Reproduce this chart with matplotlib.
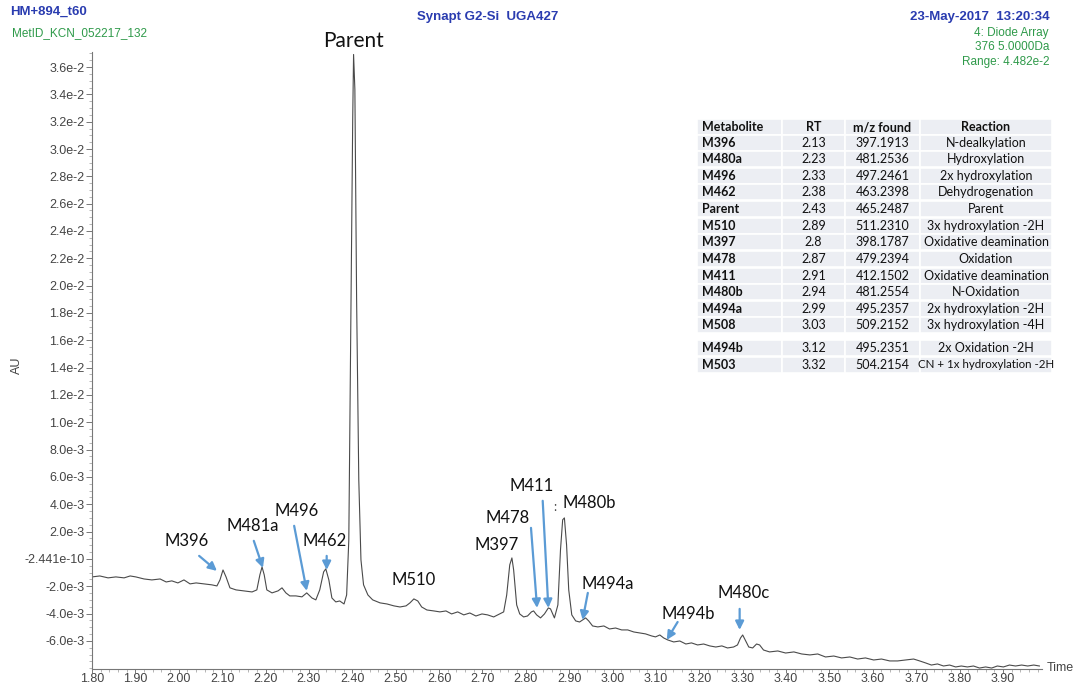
import matplotlib
matplotlib.use('Agg')
import matplotlib.pyplot as plt
from matplotlib.patches import Rectangle
from matplotlib.ticker import MultipleLocator

# chromatogram trace (time in min, AU)
time = [1.800, 1.818, 1.837, 1.855, 1.874, 1.888, 1.901, 1.920, 1.938, 1.957, 1.971, 1.984, 1.998, 2.012,
        2.026, 2.040, 2.058, 2.076, 2.088, 2.095, 2.102, 2.109, 2.118, 2.132, 2.150, 2.169, 2.180, 2.187,
        2.192, 2.197, 2.203, 2.215, 2.229, 2.238, 2.247, 2.256, 2.270, 2.284, 2.295, 2.307, 2.316, 2.325,
        2.334, 2.339, 2.346, 2.353, 2.362, 2.371, 2.381, 2.387, 2.392, 2.396, 2.401, 2.403, 2.406, 2.410,
        2.415, 2.420, 2.426, 2.436, 2.447, 2.464, 2.480, 2.496, 2.510, 2.524, 2.533, 2.542, 2.551, 2.560,
        2.572, 2.588, 2.602, 2.616, 2.629, 2.643, 2.657, 2.671, 2.685, 2.699, 2.712, 2.726, 2.740, 2.749,
        2.756, 2.763, 2.768, 2.772, 2.779, 2.786, 2.795, 2.804, 2.813, 2.818, 2.825, 2.834, 2.843, 2.852,
        2.857, 2.866, 2.874, 2.880, 2.885, 2.889, 2.894, 2.899, 2.906, 2.915, 2.924, 2.931, 2.938, 2.945,
        2.954, 2.966, 2.980, 2.993, 3.007, 3.021, 3.035, 3.049, 3.063, 3.076, 3.090, 3.099, 3.109, 3.118,
        3.127, 3.141, 3.155, 3.169, 3.182, 3.196, 3.210, 3.224, 3.238, 3.252, 3.265, 3.279, 3.288, 3.295,
        3.300, 3.307, 3.314, 3.323, 3.332, 3.339, 3.348, 3.362, 3.381, 3.399, 3.418, 3.436, 3.455, 3.473,
        3.491, 3.510, 3.528, 3.547, 3.565, 3.583, 3.602, 3.620, 3.639, 3.657, 3.676, 3.694, 3.708, 3.722,
        3.735, 3.749, 3.763, 3.777, 3.791, 3.804, 3.818, 3.832, 3.846, 3.860, 3.874, 3.887, 3.901, 3.915,
        3.929, 3.943, 3.957, 3.971, 3.984]
au_e3 = [-1.32, -1.25, -1.39, -1.32, -1.39, -1.25, -1.32, -1.47, -1.54, -1.47, -1.69, -1.61, -1.76, -1.54,
         -1.83, -1.76, -1.83, -1.90, -1.98, -1.54, -0.81, -1.32, -2.12, -2.27, -2.34, -2.42, -2.27, -1.17,
         -0.59, -1.17, -2.27, -2.49, -2.34, -2.12, -2.49, -2.71, -2.71, -2.78, -2.49, -2.86, -3.00, -2.27,
         -0.95, -0.73, -1.54, -2.86, -3.15, -3.08, -3.30, -2.64, 1.39, 15.31, 32.16, 36.92, 34.36, 18.97,
         5.79, -0.07, -1.90, -2.64, -3.00, -3.22, -3.30, -3.44, -3.52, -3.44, -3.22, -2.93, -3.08, -3.52,
         -3.74, -3.81, -3.88, -3.81, -4.03, -3.88, -4.10, -3.96, -4.18, -4.03, -4.10, -4.25, -4.03, -3.88,
         -2.64, -0.44, 0.07, -0.81, -3.37, -4.03, -4.25, -4.18, -3.88, -3.81, -4.10, -4.32, -4.03, -3.59,
         -3.66, -4.32, -3.37, 0.66, 2.86, 3.00, 1.03, -2.27, -4.10, -4.54, -4.62, -4.47, -4.32, -4.54,
         -4.91, -4.98, -4.91, -5.13, -5.06, -5.20, -5.20, -5.35, -5.42, -5.49, -5.64, -5.71, -5.57, -5.79,
         -5.93, -6.08, -6.01, -6.23, -6.15, -6.30, -6.23, -6.37, -6.45, -6.37, -6.52, -6.45, -6.30, -5.79,
         -5.57, -6.01, -6.45, -6.52, -6.23, -6.30, -6.67, -6.81, -6.74, -6.89, -6.81, -6.96, -7.03, -6.96,
         -7.18, -7.11, -7.25, -7.18, -7.33, -7.25, -7.40, -7.33, -7.47, -7.47, -7.40, -7.33, -7.47, -7.62,
         -7.77, -7.69, -7.84, -7.77, -7.91, -7.84, -7.91, -7.84, -7.99, -7.91, -7.99, -7.84, -7.91, -7.77,
         -7.84, -7.77, -7.84, -7.77, -7.84]
au = [v * 1e-3 for v in au_e3]

ytick_vals = [-0.006, -0.004, -0.002, 0.0, 0.002, 0.004, 0.006, 0.008, 0.010, 0.012, 0.014, 0.016,
              0.018, 0.020, 0.022, 0.024, 0.026, 0.028, 0.030, 0.032, 0.034, 0.036]
ytick_labels = ['-6.0e-3', '-4.0e-3', '-2.0e-3', '-2.441e-10', '2.0e-3', '4.0e-3', '6.0e-3', '8.0e-3',
                '1.0e-2', '1.2e-2', '1.4e-2', '1.6e-2', '1.8e-2', '2.0e-2', '2.2e-2', '2.4e-2', '2.6e-2',
                '2.8e-2', '3.0e-2', '3.2e-2', '3.4e-2', '3.6e-2']
xtick_vals = [1.8, 1.9, 2.0, 2.1, 2.2, 2.3, 2.4, 2.5, 2.6, 2.7, 2.8, 2.9, 3.0, 3.1, 3.2, 3.3, 3.4, 3.5,
              3.6, 3.7, 3.8, 3.9]
xtick_labels = ['%.2f' % v for v in xtick_vals]

# peak labels: (name, label x, label y) and arrows (tail, head) in data units
peak_names = ['M396', 'M481a', 'M496', 'M462', 'M510', 'M397', 'M478', 'M411', 'M480b', 'M494a', 'M494b', 'M480c']
label_pos = [(2.019, 1.32e-3), (2.170, 2.42e-3), (2.271, 3.52e-3), (2.337, 1.32e-3), (2.542, -1.54e-3),
             (2.733, 1.03e-3), (2.758, 3.00e-3), (2.813, 5.35e-3), (2.947, 4.10e-3), (2.989, -1.83e-3),
             (3.175, -4.03e-3), (3.302, -2.49e-3)]
arrows = [((2.047, 0.22e-3), (2.088, -0.88e-3)),
          ((2.173, 1.32e-3), (2.194, -0.66e-3)),
          ((2.266, 2.42e-3), (2.295, -2.34e-3)),
          ((2.341, 0.22e-3), (2.341, -0.81e-3)),
          None,
          None,
          ((2.812, 2.27e-3), (2.826, -3.59e-3)),
          ((2.839, 4.25e-3), (2.852, -3.59e-3)),
          None,
          ((2.943, -2.49e-3), (2.931, -4.47e-3)),
          ((3.150, -4.62e-3), (3.125, -5.93e-3)),
          ((3.293, -3.66e-3), (3.293, -5.20e-3))]

# metabolite table
tbl_header = ['Metabolite', 'RT', 'm/z found', 'Reaction']
tbl_met = ['M396', 'M480a', 'M496', 'M462', 'Parent', 'M510', 'M397', 'M478', 'M411', 'M480b', 'M494a',
           'M508', 'M494b', 'M503']
tbl_rt = ['2.13', '2.23', '2.33', '2.38', '2.43', '2.89', '2.8', '2.87', '2.91', '2.94', '2.99', '3.03',
          '3.12', '3.32']
tbl_mz = ['397.1913', '481.2536', '497.2461', '463.2398', '465.2487', '511.2310', '398.1787', '479.2394',
          '412.1502', '481.2554', '495.2357', '509.2152', '495.2351', '504.2154']
tbl_rx = ['N-dealkylation', 'Hydroxylation', '2x hydroxylation', 'Dehydrogenation', 'Parent',
          '3x hydroxylation -2H', 'Oxidative deamination', 'Oxidation', 'Oxidative deamination',
          'N-Oxidation', '2x hydroxylation -2H', '3x hydroxylation -4H', '2x Oxidation -2H',
          'CN + 1x hydroxylation -2H']

W, H = 1076, 686
fig = plt.figure(figsize=(W / 100, H / 100), dpi=100)
ax = fig.add_axes([92 / W, 1 - 669 / H, (1042 - 92) / W, (669 - 52) / H])

ax.plot(time, au, color='#4a4a4a', lw=0.8)
ax.set_xlim(1.80, 3.99)
ax.set_ylim(-8.06e-3, 0.0371)
for s in ['top', 'right']:
    ax.spines[s].set_visible(False)
for s in ['left', 'bottom']:
    ax.spines[s].set_color('#777777')
    ax.spines[s].set_linewidth(0.8)

ax.set_yticks(ytick_vals)
ax.set_yticklabels(ytick_labels)
ax.set_xticks(xtick_vals)
ax.set_xticklabels(xtick_labels)
ax.yaxis.set_minor_locator(MultipleLocator(0.0005))
ax.xaxis.set_minor_locator(MultipleLocator(0.02))
ax.tick_params(axis='y', which='major', length=4, width=0.7, color='#777777',
               labelsize=9, labelcolor='#444444', pad=1.5)
ax.tick_params(axis='x', which='major', length=3, width=0.7, color='#777777',
               labelsize=9, labelcolor='#444444', pad=0)
ax.tick_params(axis='both', which='minor', length=2, width=0.5, color='#999999')
for lab in ax.get_xticklabels() + ax.get_yticklabels():
    lab.set_fontfamily('Liberation Sans')

ax.text(2.403, 0.0379, 'Parent', fontsize=15, family='Lato', ha='center', va='center', color='#111111')
for name, (lx, ly) in zip(peak_names, label_pos):
    ax.text(lx, ly, name, fontsize=12, family='Lato', ha='center', va='center', color='#111111')
ax.text(2.867, 3.8e-3, ':', fontsize=9, family='Lato', ha='center', va='center', color='#444444')
for a in arrows:
    if a is None:
        continue
    (tx, ty), (hx, hy) = a
    ax.annotate('', xy=(hx, hy), xytext=(tx, ty),
                arrowprops=dict(arrowstyle='-|>,head_length=0.5,head_width=0.25', color='#5b9bd5', lw=1.6,
                                shrinkA=0, shrinkB=0))

# header texts
blue = '#2a3cb0'
green = '#2f9a4a'
fig.text(10 / W, 1 - 12 / H, 'HM+894_t60', color=blue, fontsize=9.5, fontweight='bold',
         family='Liberation Sans', ha='left', va='center')
fig.text(12 / W, 1 - 33 / H, 'MetID_KCN_052217_132', color=green, fontsize=8.5,
         family='Liberation Sans', ha='left', va='center')
fig.text(488 / W, 1 - 17 / H, 'Synapt G2-Si  UGA427', color=blue, fontsize=9.5, fontweight='bold',
         family='Liberation Sans', ha='center', va='center')
fig.text(1050 / W, 1 - 17 / H, '23-May-2017  13:20:34', color=blue, fontsize=9.5, fontweight='bold',
         family='Liberation Sans', ha='right', va='center')
for yy, s in zip([33, 47, 62], ['4: Diode Array', '376 5.0000Da', 'Range: 4.482e-2']):
    fig.text(1049 / W, 1 - yy / H, s, color=green, fontsize=8.5, family='Liberation Sans',
             ha='right', va='center')
fig.text(17 / W, 1 - 365 / H, 'AU', rotation=90, fontsize=9, color='#444444',
         family='Liberation Sans', ha='center', va='center')
fig.text(1047 / W, 1 - 668 / H, 'Time', fontsize=9, color='#444444',
         family='Liberation Sans', ha='left', va='center')

# table
col_edges = [697, 782, 845, 920, 1052]
row_y = [127, 143, 159, 176, 192, 209, 226, 242, 259, 276, 292, 309, 325, 348, 365]
row_h = 16.5
rows = [tbl_header] + [list(r) for r in zip(tbl_met, tbl_rt, tbl_mz, tbl_rx)]
for i, (yc, row) in enumerate(zip(row_y, rows)):
    for j in range(4):
        x0, x1 = col_edges[j], col_edges[j + 1]
        fig.patches.append(Rectangle((x0 / W, 1 - (yc + row_h / 2) / H), (x1 - x0) / W, row_h / H,
                                     transform=fig.transFigure, facecolor='#eceef3',
                                     edgecolor='white', lw=1.2))
        bold = (i == 0) or (j == 0)
        fs = 8.3 if len(row[j]) > 22 else 9
        if j == 0:
            fig.text((x0 + 5) / W, 1 - yc / H, row[j], fontsize=fs, family='Lato',
                     fontweight='bold' if bold else 'normal', ha='left', va='center', color='#111111')
        else:
            fig.text((x0 + x1) / 2 / W, 1 - yc / H, row[j], fontsize=fs, family='Lato',
                     fontweight='bold' if bold else 'normal', ha='center', va='center', color='#111111')

fig.savefig('out.png', dpi=100)
